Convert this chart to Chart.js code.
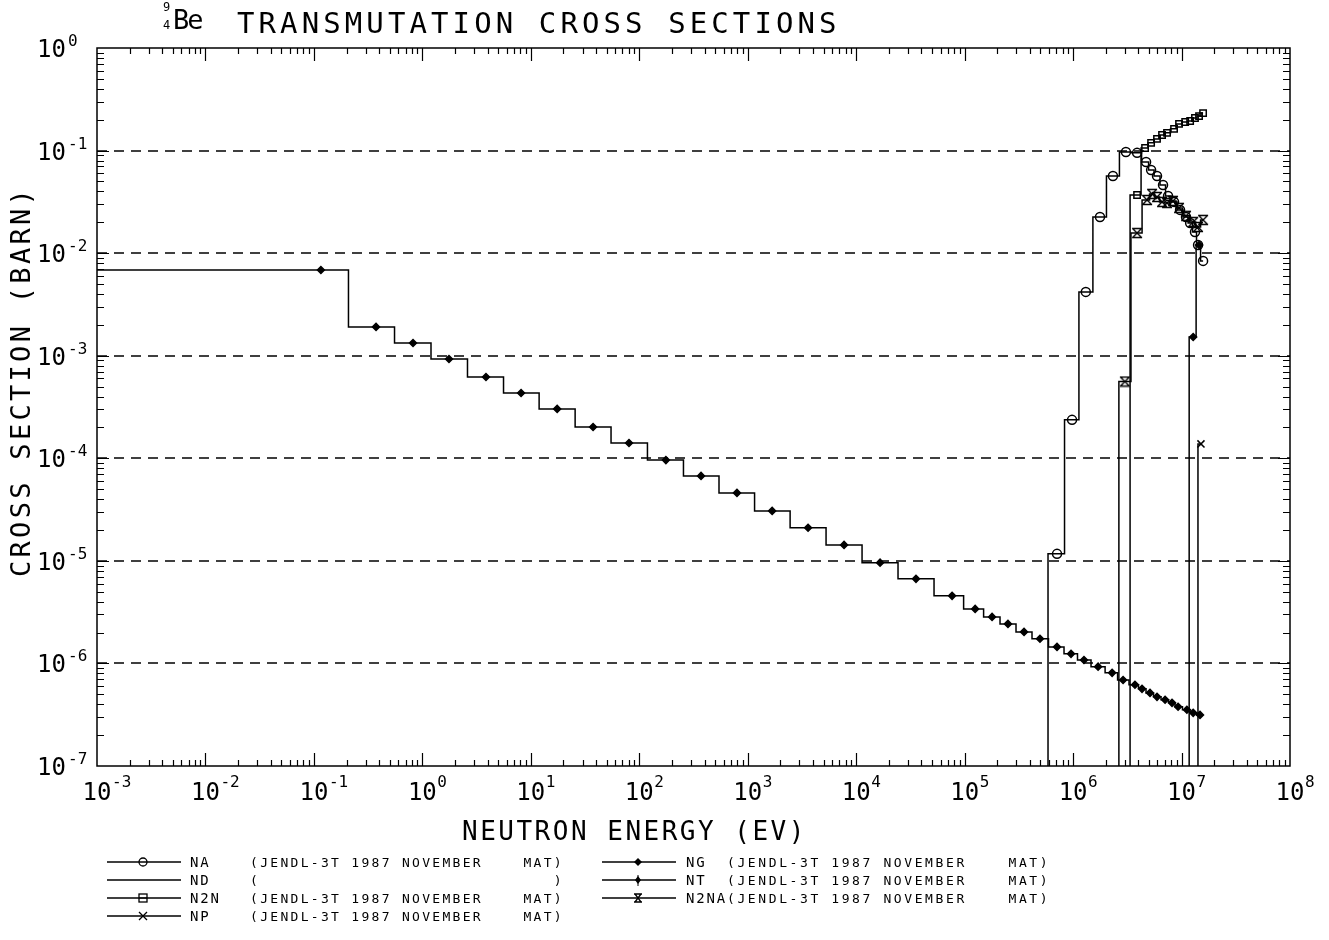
<!DOCTYPE html>
<html>
<head>
<meta charset="utf-8">
<script src="https://cdn.jsdelivr.net/npm/chart.js@4.4.1/dist/chart.umd.min.js"></script>
<style>
  html, body { margin: 0; padding: 0; background: #fff; }
  #wrap { position: relative; width: 1329px; height: 940px; overflow: hidden;
          font-family: "DejaVu Sans Mono", monospace; color: #000; }
  #chart { position: absolute; left: 0; top: 0; }
  .txt { position: absolute; white-space: pre; line-height: 1; }
  #ytitle { transform-origin: 0 0; transform: rotate(-90deg); }
  .leg { position: absolute; height: 14px; }
</style>
</head>
<body>
<div id="wrap">
  <canvas id="chart" width="1329" height="940" style="width:1329px;height:940px"></canvas>
  <div class="txt" style="left:163px;top:1px;font-size:12px">9</div>
  <div class="txt" style="left:163px;top:19px;font-size:12px">4</div>
  <div class="txt" style="left:173px;top:6px;font-size:27px;letter-spacing:-2px">Be</div>
  <div class="txt" id="title" style="left:237px;top:9px;font-size:29px;letter-spacing:4.1px">TRANSMUTATION CROSS SECTIONS</div>
  <div class="txt" id="xtitle" style="left:462px;top:818px;font-size:26px;letter-spacing:2.5px">NEUTRON ENERGY (EV)</div>
  <div class="txt" id="ytitle" style="left:7px;top:577px;font-size:27px;letter-spacing:3.3px">CROSS SECTION (BARN)</div>
  <div id="legend"></div>
</div>
<script>
// axis ranges and decade labels
var xMin = 1e-3, xMax = 1e8, yMin = 1e-7, yMax = 1;
var xExponents = ['-3', '-2', '-1', '0', '1', '2', '3', '4', '5', '6', '7', '8'];
var yExponents = ['0', '-1', '-2', '-3', '-4', '-5', '-6', '-7'];

// NG : first entry is the left end of the first group
var ngEnergy = [1e-3, 0.116, 0.374, 0.82, 1.76, 3.86, 8.13, 17.5, 37.5, 80.4, 176, 371, 796, 1680,
  3600, 7730, 1.66e4, 3.56e4, 7.66e4, 1.25e5, 1.79e5, 2.51e5, 3.53e5, 4.95e5, 7.11e5, 9.57e5,
  1.26e6, 1.70e6, 2.29e6, 2.89e6, 3.72e6, 4.32e6, 5.12e6, 5.94e6, 7.05e6, 8.17e6, 9.29e6,
  1.12e7, 1.28e7, 1.48e7];
var ngSigma = [6.85e-3, 6.85e-3, 1.91e-3, 1.33e-3, 9.3e-4, 6.2e-4, 4.33e-4, 3.03e-4, 2.02e-4, 1.41e-4,
  9.6e-5, 6.73e-5, 4.6e-5, 3.07e-5, 2.1e-5, 1.43e-5, 9.6e-6, 6.68e-6, 4.56e-6, 3.4e-6, 2.84e-6,
  2.43e-6, 2.03e-6, 1.74e-6, 1.45e-6, 1.24e-6, 1.08e-6, 9.3e-7, 8.1e-7, 6.9e-7, 6.2e-7, 5.65e-7,
  5.16e-7, 4.72e-7, 4.42e-7, 4.13e-7, 3.78e-7, 3.53e-7, 3.3e-7, 3.15e-7];

// threshold reactions : first entry is the threshold (zero below)
var naEnergy = [4.85e5, 7.11e5, 9.78e5, 1.31e6, 1.77e6, 2.33e6, 3.07e6, 3.89e6, 4.71e6, 5.24e6,
  5.94e6, 6.75e6, 7.51e6, 8.53e6, 9.69e6, 1.10e7, 1.20e7, 1.33e7, 1.42e7, 1.58e7];
var naSigma = [1e-8, 1.17e-5, 2.37e-4, 4.19e-3, 2.25e-2, 5.65e-2, 9.7e-2, 9.5e-2, 7.74e-2, 6.47e-2,
  5.65e-2, 4.62e-2, 3.61e-2, 3.16e-2, 2.64e-2, 2.25e-2, 1.97e-2, 1.61e-2, 1.20e-2, 8.4e-3];

var n2nEnergy = [2.89e6, 3.89e6, 4.61e6, 5.24e6, 5.94e6, 6.61e6, 7.35e6, 8.53e6, 9.48e6, 1.08e7,
  1.20e7, 1.33e7, 1.45e7, 1.58e7];
var n2nSigma = [1e-8, 3.69e-2, 0.106, 0.119, 0.130, 0.142, 0.149, 0.163, 0.182, 0.190,
  0.194, 0.208, 0.217, 0.232];

var n2naEnergy = [2.33e6, 3.0e6, 3.89e6, 4.81e6, 5.35e6, 5.94e6, 6.61e6, 7.35e6, 8.35e6, 9.48e6,
  1.10e7, 1.28e7, 1.42e7, 1.58e7];
var n2naSigma = [1e-8, 5.6e-4, 1.57e-2, 3.3e-2, 3.78e-2, 3.53e-2, 3.16e-2, 3.09e-2, 3.23e-2, 2.76e-2,
  2.31e-2, 2.01e-2, 1.80e-2, 2.11e-2];

var npEnergy = [1.33e7, 1.51e7];
var npSigma = [1e-8, 1.38e-4];

var ntEnergy = [1.08e7, 1.28e7, 1.45e7];
var ntSigma = [1e-8, 1.52e-3, 1.2e-2];

// legend
var legendCodes = ['NA', 'ND', 'N2N', 'NP', 'NG', 'NT', 'N2NA'];
var legendNotes = ['(JENDL-3T 1987 NOVEMBER    MAT)', '(                             )',
  '(JENDL-3T 1987 NOVEMBER    MAT)', '(JENDL-3T 1987 NOVEMBER    MAT)',
  '(JENDL-3T 1987 NOVEMBER    MAT)', '(JENDL-3T 1987 NOVEMBER    MAT)', '(JENDL-3T 1987 NOVEMBER    MAT)'];

// hourglass marker for N2NA
var hourglass = document.createElement('canvas');
hourglass.width = 12; hourglass.height = 12;
(function() {
  var c = hourglass.getContext('2d');
  c.strokeStyle = '#000'; c.lineWidth = 1.4;
  c.beginPath();
  c.moveTo(1, 1.5); c.lineTo(11, 1.5);
  c.moveTo(1, 10.5); c.lineTo(11, 10.5);
  c.moveTo(2, 2); c.lineTo(10, 10);
  c.moveTo(10, 2); c.lineTo(2, 10);
  c.stroke();
})();

function series(energy, sigma, pointStyle, radius, fillColor) {
  return {
    data: energy.map(function(e, i) { return {x: e, y: sigma[i]}; }),
    borderColor: '#000',
    borderWidth: 1.5,
    stepped: 'middle',
    fill: false,
    pointStyle: pointStyle,
    pointRadius: function(c) { return c.dataIndex === 0 ? 0 : radius; },
    pointBorderColor: '#000',
    pointBorderWidth: 1.5,
    pointBackgroundColor: fillColor
  };
}

var axisPlugin = {
  id: 'axisPlugin',
  beforeDatasetsDraw: function(chart) {
    var ctx = chart.ctx, a = chart.chartArea, y = chart.scales.y;
    ctx.save();
    ctx.strokeStyle = '#000';
    ctx.lineWidth = 1.5;
    ctx.setLineDash([10, 7]);
    for (var e = -6; e <= -1; e++) {
      var py = Math.round(y.getPixelForValue(Math.pow(10, e)));
      ctx.beginPath(); ctx.moveTo(a.left, py); ctx.lineTo(a.right, py); ctx.stroke();
    }
    ctx.restore();
  },
  afterDatasetsDraw: function(chart) {
    var ctx = chart.ctx, a = chart.chartArea, x = chart.scales.x, y = chart.scales.y;
    var d, k, len, p;
    ctx.save();
    ctx.strokeStyle = '#000';
    ctx.lineWidth = 1.5;
    ctx.strokeRect(a.left, a.top, a.right - a.left, a.bottom - a.top);
    ctx.lineWidth = 1.2;
    ctx.beginPath();
    for (d = -3; d <= 7; d++) {
      for (k = 1; k <= 9; k++) {
        if (d === -3 && k === 1) continue;
        p = Math.round(x.getPixelForValue(k * Math.pow(10, d))) + 0.5;
        len = k === 1 ? 13 : 6;
        ctx.moveTo(p, a.bottom); ctx.lineTo(p, a.bottom - len);
        ctx.moveTo(p, a.top); ctx.lineTo(p, a.top + len);
      }
    }
    for (d = -7; d <= -1; d++) {
      for (k = 1; k <= 9; k++) {
        if (d === -7 && k === 1) continue;
        p = Math.round(y.getPixelForValue(k * Math.pow(10, d))) + 0.5;
        len = k === 1 ? 12 : 7;
        ctx.moveTo(a.left, p); ctx.lineTo(a.left + len, p);
        ctx.moveTo(a.right, p); ctx.lineTo(a.right - len, p);
      }
    }
    ctx.stroke();

    // decade labels
    ctx.fillStyle = '#000';
    xExponents.forEach(function(ex) {
      var px = x.getPixelForValue(Math.pow(10, Number(ex)));
      ctx.font = '24px "DejaVu Sans Mono"';
      ctx.textAlign = 'center';
      ctx.fillText('10', px, 800);
      ctx.font = '16px "DejaVu Sans Mono"';
      ctx.textAlign = 'left';
      ctx.fillText(ex, px + 15, 787);
    });
    yExponents.forEach(function(ex) {
      var py = y.getPixelForValue(Math.pow(10, Number(ex)));
      ctx.font = '24px "DejaVu Sans Mono"';
      ctx.textAlign = 'left';
      ctx.fillText('10', 37, py + 9);
      ctx.font = '16px "DejaVu Sans Mono"';
      ctx.fillText(ex, 68, py - 2);
    });
    ctx.restore();
  }
};

new Chart(document.getElementById('chart'), {
  type: 'line',
  data: {
    datasets: [
      series(ngEnergy, ngSigma, 'rectRot', 3.5, '#000'),
      series(naEnergy, naSigma, 'circle', 4.5, 'rgba(0,0,0,0)'),
      series(n2nEnergy, n2nSigma, 'rect', 4.5, 'rgba(0,0,0,0)'),
      series(n2naEnergy, n2naSigma, hourglass, 6, 'rgba(0,0,0,0)'),
      series(npEnergy, npSigma, 'crossRot', 5, 'rgba(0,0,0,0)'),
      series(ntEnergy, ntSigma, 'rectRot', 3.5, '#000')
    ]
  },
  options: {
    responsive: false,
    animation: false,
    events: [],
    layout: { padding: { left: 97, right: 39, top: 48, bottom: 174 } },
    plugins: { legend: { display: false }, tooltip: { enabled: false } },
    scales: {
      x: { type: 'logarithmic', min: xMin, max: xMax, display: false },
      y: { type: 'logarithmic', min: yMin, max: yMax, display: false }
    }
  },
  plugins: [axisPlugin]
});

// legend rows
var markers = {
  NA: '<circle cx="36" cy="7" r="4" fill="none" stroke="#000" stroke-width="1.3"/>',
  ND: '',
  N2N: '<rect x="32" y="3" width="8" height="8" fill="none" stroke="#000" stroke-width="1.3"/><line x1="32" y1="7" x2="40" y2="7" stroke="#000"/>',
  NP: '<path d="M32 3 L40 11 M40 3 L32 11" stroke="#000" stroke-width="1.3"/>',
  NG: '<path d="M36 3 L40 7 L36 11 L32 7 Z" fill="#000"/>',
  NT: '<path d="M36 3 L39 7 L36 11 L33 7 Z" fill="#000"/><line x1="36" y1="2" x2="36" y2="13" stroke="#000"/>',
  N2NA: '<path d="M32 3 L40 3 M32 11 L40 11 M33 3 L39 11 M39 3 L33 11" stroke="#000" stroke-width="1.3"/>'
};
var legendHtml = '';
legendCodes.forEach(function(code, i) {
  var col = i < 4 ? 0 : 1;
  var row = i < 4 ? i : i - 4;
  var yc = 862 + row * 18;
  var sx = col === 0 ? 107 : 602;
  var lx = col === 0 ? 190 : 686;
  var nx = col === 0 ? 250 : 727;
  var ls = col === 0 ? 2.3 : 2.6;
  legendHtml += '<svg class="leg" width="74" height="14" style="left:' + sx + 'px;top:' + (yc - 7) + 'px">' +
    '<line x1="0" y1="7" x2="74" y2="7" stroke="#000" stroke-width="1.3"/>' + markers[code] + '</svg>';
  legendHtml += '<div class="txt" style="left:' + lx + 'px;top:' + (yc - 7) + 'px;font-size:14px;letter-spacing:1.8px">' + code + '</div>';
  legendHtml += '<div class="txt" style="left:' + nx + 'px;top:' + (yc - 6) + 'px;font-size:13px;letter-spacing:' + ls + 'px">' + legendNotes[i] + '</div>';
});
document.getElementById('legend').innerHTML = legendHtml;
</script>
</body>
</html>
